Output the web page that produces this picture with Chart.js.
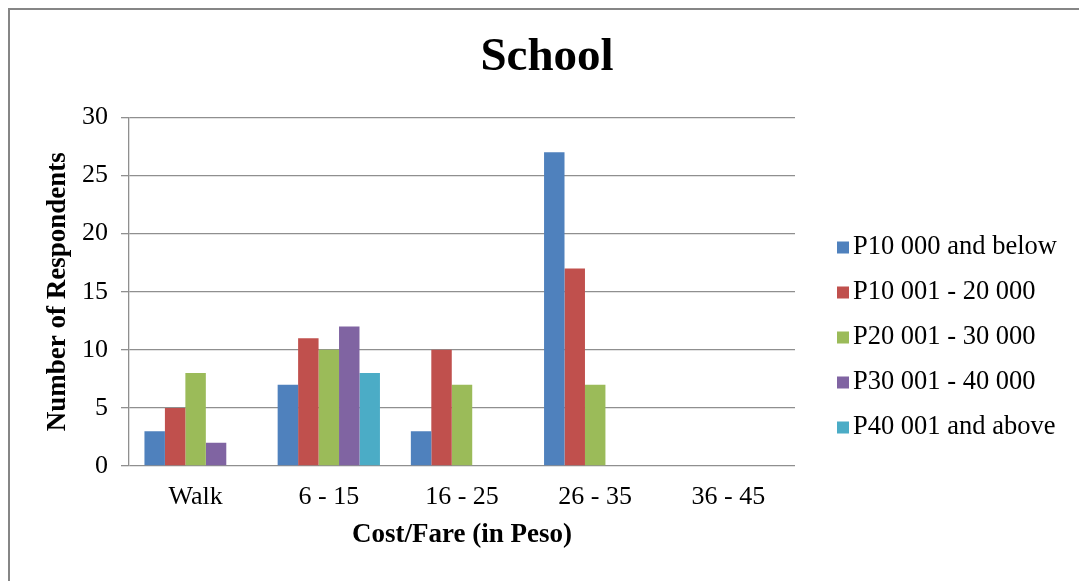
<!DOCTYPE html>
<html>
<head>
<meta charset="utf-8">
<script src="https://cdn.jsdelivr.net/npm/chart.js@4/dist/chart.umd.min.js"></script>
<style>
  html, body { margin: 0; padding: 0; background: #ffffff; }
  #wrap { width: 1079px; height: 581px; position: relative; }
</style>
</head>
<body>
<div id="wrap"><canvas id="c" width="1079" height="581"></canvas></div>
<script>
// ---- data ----
const categories = ['Walk', '6 - 15', '16 - 25', '26 - 35', '36 - 45'];
const seriesNames = ['P10 000 and below', 'P10 001 - 20 000', 'P20 001 - 30 000', 'P30 001 - 40 000', 'P40 001 and above'];
const below10k   = [3, 7, 3, 27, 0];
const from10k    = [5, 11, 10, 17, 0];
const from20k    = [8, 10, 7, 7, 0];
const from30k    = [2, 12, 0, 0, 0];
const above40k   = [0, 8, 0, 0, 0];
const yTicks     = [0, 5, 10, 15, 20, 25, 30];

const seriesValues = [below10k, from10k, from20k, from30k, above40k];
const colors = ['#4F81BD', '#C0504D', '#9BBB59', '#8064A2', '#4BACC6'];
const SERIF = "'Liberation Serif', 'Times New Roman', serif";

const frame = {
  id: 'frame',
  beforeDraw(chart) {
    const ctx = chart.ctx;
    ctx.save();
    ctx.fillStyle = '#ffffff';
    ctx.fillRect(0, 0, chart.width, chart.height);
    ctx.strokeStyle = '#868686';
    ctx.lineWidth = 2;
    ctx.strokeRect(9, 9, chart.width + 50, chart.height + 50);
    ctx.restore();
  }
};

const sideLegend = {
  id: 'sideLegend',
  afterDraw(chart) {
    const ctx = chart.ctx;
    ctx.save();
    ctx.font = '26.5px ' + SERIF;
    ctx.textBaseline = 'middle';
    ctx.textAlign = 'left';
    chart.data.datasets.forEach((ds, i) => {
      const y = 247.5 + i * 45;
      ctx.fillStyle = ds.backgroundColor;
      ctx.fillRect(837, y - 6, 12, 12);
      ctx.fillStyle = '#000000';
      ctx.fillText(ds.label, 853, y);
    });
    ctx.restore();
  }
};

new Chart(document.getElementById('c'), {
  type: 'bar',
  data: {
    labels: categories,
    datasets: seriesNames.map((name, i) => ({
      label: name,
      data: seriesValues[i],
      backgroundColor: colors[i],
      borderWidth: 0,
      categoryPercentage: 0.768,
      barPercentage: 1.0
    }))
  },
  options: {
    responsive: false,
    animation: false,
    devicePixelRatio: 1,
    layout: { padding: { left: 15, right: 0, top: 0, bottom: 28.4 } },
    plugins: {
      legend: { display: false },
      tooltip: { enabled: false },
      title: {
        display: true,
        text: 'School',
        color: '#000000',
        font: { family: SERIF, size: 47, weight: 'bold' },
        padding: { top: 30, bottom: 31 }
      }
    },
    scales: {
      x: {
        grid: { display: false, drawTicks: false },
        border: { display: false },
        ticks: {
          color: '#000000',
          font: { family: SERIF, size: 26 },
          padding: 16,
          maxRotation: 0,
          autoSkip: false
        },
        title: {
          display: true,
          text: 'Cost/Fare (in Peso)',
          color: '#000000',
          font: { family: SERIF, size: 27, weight: 'bold' },
          padding: { top: 0, bottom: 1 }
        },
        afterFit(axis) { axis.height = 86.6; }
      },
      y: {
        min: 0,
        max: 30,
        afterBuildTicks(axis) { axis.ticks = yTicks.map(v => ({ value: v })); },
        grid: { color: '#8f8f8f', lineWidth: 1.3, tickLength: 8, drawTicks: true },
        border: { display: true, color: '#8f8f8f', width: 1.3 },
        ticks: {
          color: '#000000',
          font: { family: SERIF, size: 26 },
          padding: 13
        },
        title: {
          display: true,
          text: 'Number of Respondents',
          color: '#000000',
          font: { family: SERIF, size: 27, weight: 'bold' },
          padding: { top: 27, bottom: 0 }
        },
        afterFit(axis) { axis.width = 114; }
      },
      legendSpace: {
        type: 'linear',
        position: 'right',
        display: true,
        grid: { display: false, drawTicks: false },
        border: { display: false },
        ticks: { display: false },
        afterFit(axis) { axis.width = 284; }
      }
    }
  },
  plugins: [frame, sideLegend]
});
</script>
</body>
</html>
